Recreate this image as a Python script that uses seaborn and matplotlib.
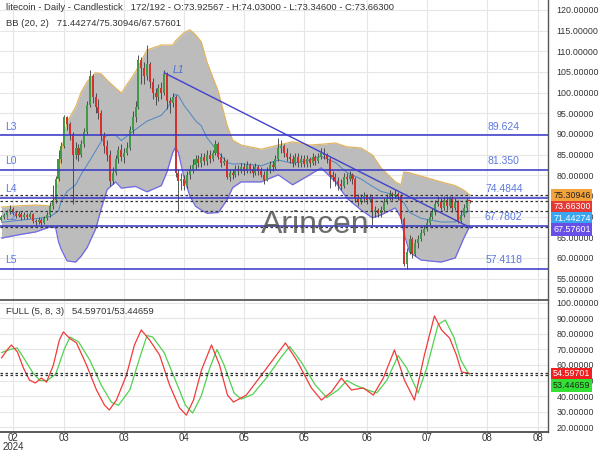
import numpy as np
import pandas as pd
import matplotlib
matplotlib.use("Agg")
import matplotlib.pyplot as plt
import seaborn as sns

# ---------------- data ----------------
closes = [69.8, 70.3, 71.0, 71.8, 70.9, 70.2, 70.6, 69.8, 70.4, 70.0,
          70.6, 69.0, 68.6, 69.2, 68.5, 69.6, 70.4, 72.5, 74.0, 79.0,
          84.0, 87.0, 94.0, 92.5, 90.0, 85.0, 86.5, 85.0, 87.5, 90.5,
          97.0, 104.0, 99.0, 96.5, 95.0, 89.5, 87.0, 85.0, 78.5, 80.5,
          84.0, 86.0, 84.5, 85.5, 86.5, 91.0, 94.0, 96.5, 108.0, 106.0,
          104.0, 107.0, 102.5, 100.0, 99.0, 101.0, 100.0, 104.5, 98.0, 97.5,
          99.0, 80.5, 78.5, 79.0, 77.5, 80.0, 81.5, 82.5, 84.0, 83.0,
          84.5, 83.5, 85.0, 84.0, 85.5, 87.5, 84.5, 83.0, 83.5, 79.5,
          80.5, 80.0, 81.5, 81.0, 82.0, 81.0, 82.5, 81.5, 80.5, 82.0,
          81.0, 80.0, 78.8, 81.0, 82.5, 82.0, 84.0, 86.5, 87.0, 85.5,
          84.5, 84.0, 83.0, 84.5, 83.0, 84.0, 82.8, 84.0, 83.0, 84.5,
          83.5, 84.5, 85.5, 85.0, 84.0, 80.0, 79.5, 78.5, 78.0, 77.5,
          79.5, 79.0, 80.0, 79.0, 74.5, 73.5, 74.5, 75.0, 74.0, 74.8,
          71.0, 71.5, 70.8, 71.5, 73.5, 74.5, 75.5, 75.0, 75.5, 75.0,
          69.5, 58.5, 61.5, 64.5, 61.0, 63.5, 64.5, 66.0, 67.0, 68.5,
          70.0, 71.0, 73.0, 73.5, 72.0, 74.0, 72.5, 74.5, 72.0, 73.5,
          69.0, 70.5, 72.0, 73.92567, 73.663]
opens = [69.3] + closes[:-1]
highs = [70.4, 70.9, 71.6, 72.8, 72.3, 71.4, 71.3, 71.0, 71.0, 70.9,
         71.2, 70.9, 69.5, 69.8, 69.6, 70.1, 71.0, 73.6, 77.6, 79.8,
         86.2, 88.0, 94.5, 94.3, 93.0, 90.5, 88.0, 87.5, 88.5, 91.5,
         98.0, 105.5, 104.5, 100.0, 98.5, 95.8, 90.5, 88.5, 86.0, 82.0,
         85.0, 87.0, 87.5, 86.5, 88.0, 92.0, 95.5, 98.0, 109.0, 108.5,
         107.5, 111.5, 107.5, 103.5, 101.0, 102.0, 102.5, 105.5, 105.0, 99.0,
         100.0, 99.5, 81.5, 80.5, 80.0, 81.0, 82.5, 84.0, 85.0, 85.0,
         85.5, 85.5, 86.0, 86.0, 86.0, 88.5, 88.0, 85.5, 84.5, 84.0,
         81.5, 81.5, 82.5, 82.5, 83.0, 83.0, 83.5, 83.0, 82.5, 83.0,
         82.5, 82.0, 81.0, 82.0, 83.5, 83.5, 85.0, 89.0, 88.5, 87.5,
         86.5, 85.5, 85.0, 85.5, 85.5, 85.0, 85.0, 85.0, 84.5, 85.5,
         85.0, 85.5, 86.5, 86.5, 85.5, 84.5, 81.0, 80.5, 79.5, 79.0,
         80.5, 80.5, 81.0, 80.5, 79.5, 75.5, 75.5, 76.0, 75.5, 75.5,
         75.0, 72.5, 72.0, 72.5, 74.5, 75.5, 76.5, 76.0, 76.5, 76.0,
         75.5, 70.0, 62.5, 65.5, 65.0, 64.5, 65.5, 67.0, 68.0, 69.5,
         71.0, 72.0, 74.0, 75.0, 74.5, 75.0, 75.0, 75.0, 75.0, 74.5,
         74.0, 71.5, 73.0, 74.5, 74.03]
lows = [68.9, 69.4, 70.0, 70.6, 70.4, 69.6, 69.8, 69.2, 69.4, 69.4,
        69.6, 68.4, 67.9, 68.1, 67.9, 68.2, 69.2, 70.0, 71.8, 73.4,
        78.5, 83.0, 86.5, 91.0, 88.5, 73.0, 84.0, 83.5, 84.5, 86.8,
        90.0, 96.5, 97.5, 95.0, 93.5, 88.5, 85.5, 83.5, 77.5, 78.0,
        80.0, 83.0, 83.5, 83.0, 85.0, 86.0, 90.0, 93.0, 96.0, 102.0,
        102.0, 103.0, 101.0, 98.5, 97.0, 98.0, 98.5, 99.5, 96.0, 95.0,
        96.5, 79.5, 71.0, 76.5, 76.5, 77.0, 79.0, 80.5, 81.5, 82.0,
        82.0, 82.5, 82.5, 83.0, 83.5, 85.0, 84.0, 82.0, 82.5, 79.0,
        78.5, 79.0, 79.5, 80.0, 80.5, 80.0, 80.5, 80.5, 79.5, 80.0,
        80.0, 79.5, 78.0, 78.5, 80.5, 81.0, 81.5, 83.5, 85.5, 84.5,
        83.5, 83.0, 82.0, 82.5, 82.0, 82.0, 82.0, 82.0, 82.0, 82.5,
        82.5, 83.0, 84.0, 84.0, 83.0, 77.0, 78.5, 77.5, 76.5, 76.5,
        77.0, 78.0, 78.5, 78.0, 73.5, 72.5, 73.0, 73.5, 73.0, 73.5,
        68.0, 70.0, 70.0, 70.0, 71.0, 73.0, 74.0, 74.0, 74.5, 74.0,
        68.5, 58.0, 57.4118, 61.0, 60.0, 60.5, 62.5, 64.0, 65.5, 66.5,
        68.0, 69.5, 70.5, 72.5, 71.5, 71.5, 71.5, 72.0, 71.0, 71.5,
        68.5, 68.5, 70.0, 71.5, 73.346]

bb_idx = [0, 6, 12, 17, 19, 20, 21, 23, 26, 28, 30, 33, 35, 37, 40, 42, 47, 51, 56, 58,
          60, 61, 62, 64, 66, 68, 70, 72, 76, 79, 81, 84, 91, 97, 102, 108, 112, 117, 121, 126,
          130, 133, 138, 140, 141, 143, 147, 154, 159, 162, 164]
bb_up = [72.3, 72.6, 72.8, 72.6, 74.5, 79.0, 85.6, 92.9, 96.5, 100.2, 102.6, 104.8, 104.5, 103.0, 101.1, 99.9, 105.0, 110.3, 111.5, 111.5,
         111.5, 112.5, 113.2, 114.5, 115.2, 114.0, 112.3, 107.4, 100.2, 92.2, 88.5, 87.3, 86.3, 87.3, 88.1, 87.3, 87.5, 87.8, 86.9, 86.6,
         84.9, 81.8, 78.4, 77.7, 80.8, 80.6, 79.8, 78.4, 77.5, 76.4, 75.30946]
bb_mid = [68.6, 69.1, 69.5, 70.0, 70.9, 71.4, 73.8, 76.1, 77.7, 80.3, 82.5, 85.9, 88.2, 89.7, 89.7, 88.4, 91.1, 93.1, 94.5, 96.1,
          98.5, 99.6, 99.3, 96.9, 95.1, 93.2, 92.0, 89.1, 85.6, 83.1, 82.7, 82.8, 82.3, 83.7, 82.9, 83.7, 84.6, 83.1, 80.7, 79.1,
          77.3, 76.1, 75.2, 73.7, 73.4, 71.0, 69.6, 68.7, 68.7, 70.6, 71.44274]
bb_lo = [64.8, 65.6, 66.3, 67.5, 67.3, 63.9, 62.0, 59.3, 59.0, 60.5, 62.5, 67.0, 72.0, 76.5, 78.4, 76.9, 77.3, 76.0, 77.5, 80.8,
         85.5, 86.8, 85.5, 79.4, 75.0, 72.5, 71.6, 70.8, 71.0, 74.0, 77.0, 78.4, 78.4, 80.1, 77.7, 80.1, 81.8, 78.4, 74.5, 71.6,
         69.7, 70.4, 72.1, 69.7, 66.0, 61.4, 59.5, 59.0, 60.0, 64.8, 67.57601]

k_idx = [0, 2, 3.5, 5.6, 7.7, 9.8, 11.9, 14, 15.8, 18.2, 20.3, 21.7, 23.8, 26.3, 29.8, 33.3, 36.1, 37.8, 40.3, 43.8,
         46.6, 49, 51.9, 55.4, 58.9, 62.4, 64.8, 67.3, 70.1, 73.6, 76.4, 79.2, 81.3, 85.8, 91.1, 96.4, 99.5, 103.4, 108.6, 112.1,
         115.6, 119.1, 122.6, 126.8, 130.3, 133.8, 137.7, 141.2, 144.7, 148.2, 151.7, 154.2, 157, 159.4, 161.2, 164]
k_val = [64.5, 69.7, 72.9, 68.4, 58.1, 50.3, 48.4, 51.6, 49.0, 60.0, 76.1, 81.3, 77.4, 74.2, 60.0, 43.9, 34.2, 31.0, 37.4, 53.5,
         72.9, 82.6, 76.1, 66.5, 47.1, 32.3, 27.7, 37.4, 56.8, 72.9, 60.0, 40.6, 36.1, 40.6, 53.5, 66.5, 74.2, 63.2, 45.2, 37.4,
         42.6, 51.6, 43.9, 45.2, 40.6, 51.6, 69.7, 50.3, 37.4, 66.5, 91.6, 82.6, 77.4, 66.5, 55.5, 54.59701]
d_idx = [0, 3, 5.5, 8, 11, 13.5, 16, 19, 22, 24, 27, 31, 35, 38.5, 41, 45, 48, 51, 53, 57,
         61, 64.5, 67, 70, 73, 75.5, 78, 81.5, 84, 88, 93, 98, 101, 105, 110, 114, 118, 121, 124, 128,
         131.5, 135, 139, 142, 146, 149, 153, 155.5, 158.5, 161, 164]
d_val = [68.0, 70.0, 71.0, 64.0, 55.0, 50.0, 50.0, 54.0, 70.0, 78.0, 75.0, 63.0, 47.0, 36.0, 34.0, 44.0, 62.0, 79.0, 78.0, 68.0,
         50.0, 34.0, 29.0, 40.0, 58.0, 70.0, 60.0, 42.0, 38.0, 41.0, 52.0, 65.0, 72.0, 62.0, 47.0, 39.0, 44.0, 50.0, 47.0, 44.0,
         42.0, 50.0, 66.0, 58.0, 42.0, 58.0, 86.0, 89.0, 78.0, 63.0, 53.44659]

level_names = ["L3", "L0", "L4", "L2", "L5"]
level_values = [89.624, 81.350, 74.4844, 67.7802, 57.4118]
level_texts = ["89.624", "81.350", "74.4844", "67.7802", "57.4118"]
trend_x = [57, 164.5]
trend_y = [104.8, 67.25]
last_vals = [75.30946, 73.66300, 71.44274, 67.57601]
stoch_last = [54.59701, 53.44659]
xtick_pos = [4, 22, 43, 64, 85, 106, 128, 149, 170, 188]
xtick_lab = ["02\n2024", "03", "03", "04", "05", "05", "06", "07", "08", "08"]

# label placement (pixel rows of the stacked value boxes)
box_rows_main = [195.7, 207.0, 218.3, 229.6]
box_rows_osc = [374.0, 385.7]

# ---------------- style ----------------
sns.set_theme(style="white")
plt.rcParams['font.family'] = ['Liberation Sans', 'DejaVu Sans']

fig = plt.figure(figsize=(6, 4.5), dpi=100)
W = 548 / 600
ax1 = fig.add_axes([0, 150 / 450, W, 300 / 450])
ax2 = fig.add_axes([0, 18 / 450, W, 132 / 450])

grid_c = "#e6e6e6"
TICK_FS = 6.4
for ax in (ax1, ax2):
    ax.set_xlim(-0.5, 191.5)
    ax.set_facecolor("white")
    for s in ("left", "top", "bottom"):
        ax.spines[s].set_visible(False)
    ax.spines["right"].set_color("#555555")
    ax.spines["right"].set_linewidth(1.0)
    ax.yaxis.tick_right()
    ax.tick_params(axis="y", labelsize=TICK_FS, colors="#333333", length=0, pad=6)
    ax.set_xticks(xtick_pos)
    ax.grid(True, color=grid_c, lw=0.8)
    ax.set_axisbelow(True)

ax2.spines["top"].set_visible(True)
ax2.spines["top"].set_color("#555555")
ax2.spines["bottom"].set_visible(True)
ax2.spines["bottom"].set_color("#444444")

# ---- main panel ----
ax1.set_ylim(49.83, 122.4)
yt = np.arange(50, 121, 5)
ax1.set_yticks(yt)
ax1.set_yticklabels([f"{v:.5f}" if v > 50 else "" for v in yt])
ax1.tick_params(axis="x", labelbottom=False, length=0)
# the lowest label sits a little higher, above the panel edge
ax1.annotate("50.00000", xy=(1.0, 50.0), xycoords=ax1.get_yaxis_transform(),
             xytext=(6, 6), textcoords="offset points", fontsize=TICK_FS,
             color="#333333", va="center", ha="left", annotation_clip=False)

ax1.fill_between(bb_idx, bb_lo, bb_up, color="#bcbcbc", lw=0, zorder=1)
sns.lineplot(x=bb_idx, y=bb_up, ax=ax1, color="#e2b460", lw=0.9, zorder=2)
sns.lineplot(x=bb_idx, y=bb_lo, ax=ax1, color="#6f6ae6", lw=0.9, zorder=2)
sns.lineplot(x=bb_idx, y=bb_mid, ax=ax1, color="#4d86c4", lw=0.7, zorder=2)

for name, v, t in zip(level_names, level_values, level_texts):
    ax1.axhline(v, color="#3434c8", lw=1.1, zorder=5)
    ax1.text(1.2, v + 0.9, name, color="#5b78de", fontsize=7.5, va="bottom", ha="left", zorder=6)
    ax1.text(176, v + 0.9, t, color="#5b78de", fontsize=7.5, va="bottom", ha="center", zorder=6)

for v in last_vals:
    ax1.axhline(v, color="#333333", lw=0.9, ls=(0, (2, 2)), zorder=5)

idx = np.arange(len(closes))
o = np.array(opens); c = np.array(closes)
col = np.where(c >= o, "#3f9b4a", "#d8302c")
ax1.vlines(idx, lows, highs, color="#3a3a3a", lw=0.6, zorder=3)
ax1.bar(idx, np.maximum(np.abs(c - o), 0.15), bottom=np.minimum(o, c), width=0.72,
        color=col, lw=0, zorder=4)

sns.lineplot(x=trend_x, y=trend_y, ax=ax1, color="#4242cc", lw=1.0, zorder=6)
ax1.text(60, 104.8, "L1", color="#5070d0", fontsize=7.5, style="italic", zorder=6)

ax1.text(110, 68.0, "Arincen", fontsize=23, color="#4a4a4a", alpha=0.8,
         ha="center", va="center", zorder=7)


def px_to_fig(row):
    return 1 - row / 450


box_fc = ["#f2a33a", "#e53935", "#3aa6f2", "#6a4fe6"]
box_tc = ["#222222", "white", "white", "white"]
for v, fc, tc, row in zip(last_vals, box_fc, box_tc, box_rows_main):
    fig.text(553 / 600, px_to_fig(row), f"{v:.5f}", fontsize=TICK_FS,
             color=tc, va="center", ha="left", zorder=10,
             bbox=dict(boxstyle="square,pad=0.2", fc=fc, ec="none"))

# ---- stochastic panel ----
ax2.set_ylim(16.8, 101.9)
yt2 = np.arange(20, 101, 10)
ax2.set_yticks(yt2)
ax2.set_yticklabels([f"{v:.5f}" for v in yt2])
ax2.set_xticklabels(xtick_lab)
ax2.tick_params(axis="x", labelsize=7, colors="#333333", length=0, pad=1)
for lab in ax2.get_xticklabels():
    lab.set_linespacing(0.8)

sns.lineplot(x=d_idx, y=d_val, ax=ax2, color="#4fd24f", lw=0.9, zorder=3)
sns.lineplot(x=k_idx, y=k_val, ax=ax2, color="#f23a3a", lw=0.9, zorder=4)
for v in stoch_last:
    ax2.axhline(v, color="#333333", lw=0.9, ls=(0, (2, 2)), zorder=5)
for v, fc, tc, row in zip(stoch_last, ["#f02020", "#33e033"], ["white", "#222222"], box_rows_osc):
    fig.text(553 / 600, px_to_fig(row), f"{v:.5f}", fontsize=TICK_FS,
             color=tc, va="center", ha="left", zorder=10,
             bbox=dict(boxstyle="square,pad=0.2", fc=fc, ec="none"))

# ---- headers ----
fig.text(6 / 600, 1 - 8 / 450,
         "litecoin - Daily - Candlestick   172/192 - O:73.92567 - H:74.03000 - L:73.34600 - C:73.66300",
         fontsize=6.8, color="#333333", va="center", ha="left")
fig.text(6 / 600, 1 - 24 / 450, "BB (20, 2)   71.44274/75.30946/67.57601",
         fontsize=6.8, color="#333333", va="center", ha="left")
fig.text(6 / 600, 1 - 312 / 450, "FULL (5, 8, 3)   54.59701/53.44659",
         fontsize=6.8, color="#333333", va="center", ha="left")

fig.savefig("out.png", dpi=100, facecolor="white")
